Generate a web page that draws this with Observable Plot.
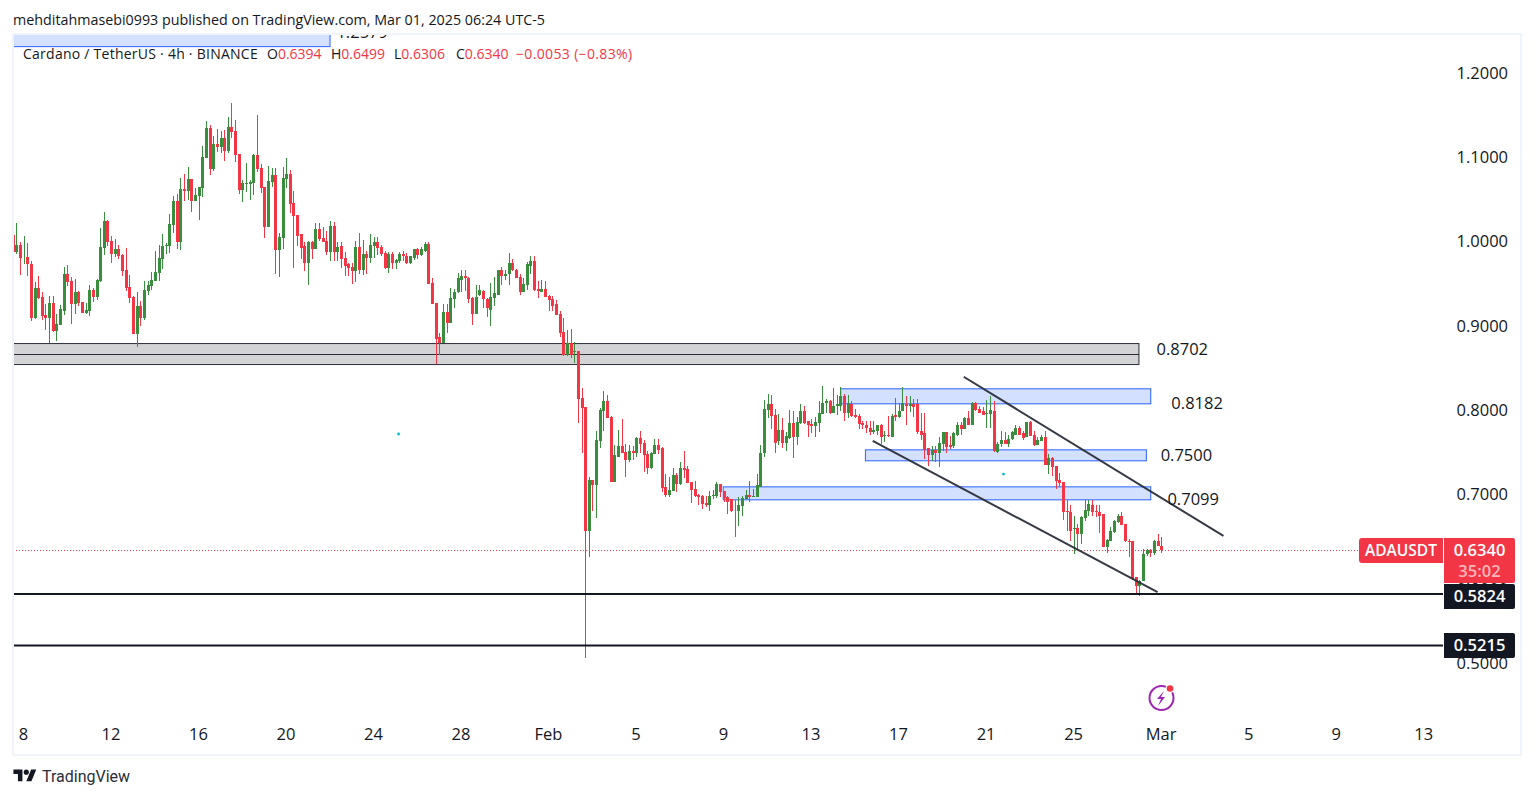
<!DOCTYPE html>
<html><head><meta charset="utf-8">
<script src="https://cdn.jsdelivr.net/npm/d3@7"></script>
<script src="https://cdn.jsdelivr.net/npm/@observablehq/plot@0.6"></script>
<style>
html,body{margin:0;padding:0;background:#fff;overflow:hidden}
#wrap{position:relative;width:1533px;height:798px;font-family:"Open Sans",sans-serif;color:#131722}
#frame{position:absolute;left:12px;top:33px;width:1506px;height:719px;border:2px solid #f0f3fa}
#wrap svg.plot{position:absolute;left:0;top:0}
.t{position:absolute;white-space:pre;line-height:1}
.tag{position:absolute;left:1444px;width:71px;text-align:center;border-radius:0 2px 2px 0;font-size:16.5px;font-weight:600}
</style></head><body><div id="wrap"><div id="frame"></div></div>
<script>
// [open, high, low, close] of each 4h bar, oldest first
const barsJanA = [
[1.0083,1.0178,.9873,.9873],[.9873,1.0225,.9850,.9964],[.9964,1.0000,.9608,.9802],[.9814,1.0071,.9731,.9822],[.9822,.9988,.9597,.9731],[.9739,.9774,.9063,.9098],[.9098,.9525,.9079,.9454],[.9454,.9597,.9324,.9335],[.9347,.9407,.9075,.9122],[.9134,.9264,.8956,.9098],
[.9098,.9359,.8798,.9276],[.9276,.9359,.8932,.8944],[.8944,.9146,.8825,.9027],[.9015,.9253,.9015,.9205],[.9181,.9703,.9134,.9620],[.9620,.9727,.9478,.9525],[.9537,.9585,.9027,.9264],[.9264,.9561,.9146,.9407],[.9407,.9419,.9241,.9276],[.9288,.9288,.9158,.9158],
[.9158,.9276,.9146,.9193],[.9181,.9490,.9122,.9430],[.9430,.9454,.9288,.9347],[.9347,.9561,.9312,.9549],[.9537,1.0166,.9525,.9940],[.9929,1.0356,.9846,1.0249],[1.0249,1.0261,.9952,1.0000],[1.0012,1.0071,.9751,.9858],[.9858,1.0035,.9822,.9917],[.9917,.9964,.9798,.9834],
[.9846,.9858,.9597,.9656],[.9668,.9929,.9419,.9454],[.9466,.9608,.9276,.9335],[.9347,.9359,.8909,.8909],[.8909,.9407,.8746,.9241],[.9241,.9300,.9003,.9098],[.9098,.9537,.9075,.9430],[.9419,.9537,.9371,.9490],[.9478,.9644,.9430,.9549],[.9537,.9893,.9537,.9644],
[.9632,.9964,.9537,.9810],[.9798,1.0095,.9680,.9952],[.9952,.9988,.9858,.9964],[.9952,1.0332,.9869,1.0213],[1.0201,1.0545,1.0107,1.0486],[1.0486,1.0569,.9917,1.0000],[1.0000,1.0759,.9905,1.0628],[1.0628,1.0806,1.0486,1.0605],[1.0605,1.0889,1.0498,1.0747],[1.0747,1.0747,1.0356,1.0486],
[1.0486,1.0640,1.0486,1.0557],[1.0545,1.0652,1.0261,1.0652],[1.0640,1.1139,1.0534,1.1008],[1.0996,1.1435,1.0996,1.1352],[1.1352,1.1388,1.0795,1.0866],[1.0866,1.1257,1.0842,1.1162],[1.1162,1.1340,1.1067,1.1127],[1.1127,1.1316,1.1055,1.1233],[1.1233,1.1328,1.0961,1.1079],[1.1079,1.1483,1.1055,1.1364],
[1.1364,1.1649,1.1233,1.1305],[1.1316,1.1447,1.0949,1.1032],[1.1044,1.1044,1.0569,1.0617],[1.0617,1.0735,1.0474,1.0700],[1.0688,1.0937,1.0593,1.0700],[1.0688,1.0735,1.0498,1.0712],[1.0700,1.1044,1.0557,1.1032],[1.1032,1.1506,1.0830,1.0866],[1.0878,1.0925,1.0581,1.0640],[1.0652,1.0652,1.0047,1.0178],
[1.0178,1.0901,1.0178,1.0723],[1.0712,1.0878,1.0652,1.0795],[1.0795,1.0878,.9620,.9905],[.9905,1.0107,.9585,1.0059],[1.0047,1.0889,.9917,1.0759],[1.0747,1.0996,1.0640,1.0806],[1.0806,1.0854,1.0344,1.0451],[1.0462,1.0605,.9691,1.0308],[1.0320,1.0320,.9952,1.0071]
];
const barsJanB = [
[1.0084,1.0084,.9799,.9929],[.9953,.9989,.9645,.9740],[.9740,1.0012,.9490,.9989],[.9989,1.0012,.9799,.9917],[.9917,1.0225,.9917,1.0150],[1.0150,1.0225,1.0012,1.0036],[1.0048,1.0170,.9989,1.0000],[1.0012,1.0131,.9846,.9882],[.9882,1.0250,.9775,1.0180],[1.0180,1.0230,.9775,.9882],
[.9882,1.0000,.9775,.9941],[.9953,1.0000,.9692,.9799],[.9811,.9882,.9597,.9716],[.9728,.9740,.9597,.9692],[.9704,.9740,.9502,.9645],[.9645,1.0012,.9526,.9941],[.9941,1.0107,.9621,.9668],[.9668,1.0024,.9609,.9858],[.9858,.9894,.9621,.9811],[.9811,1.0084,.9751,.9965],
[.9953,1.0060,.9811,.9989],[.9989,1.0060,.9846,.9929],[.9941,.9965,.9823,.9858],[.9870,.9894,.9680,.9692],[.9692,.9882,.9633,.9858],[.9858,.9882,.9680,.9740],[.9740,.9799,.9680,.9787],[.9775,.9882,.9751,.9858],[.9858,.9894,.9775,.9823],[.9834,.9870,.9728,.9740],
[.9740,.9823,.9728,.9823],[.9811,.9917,.9787,.9917],[.9917,.9929,.9799,.9846],[.9846,.9941,.9834,.9917],[.9894,.9989,.9882,.9977],[.9977,.9989,.9502,.9502],[.9514,.9573,.9265,.9265],[.9277,.9277,.8553,.8850],[.8862,.8921,.8660,.8791],[.8791,.9265,.8791,.9170],
[.9170,.9265,.8921,.9028],[.9028,.9455,.9028,.9336],[.9324,.9443,.9206,.9407],[.9396,.9633,.9384,.9562],[.9550,.9668,.9396,.9597],[.9597,.9668,.9419,.9562],[.9573,.9585,.9277,.9324],[.9336,.9348,.9016,.9146],[.9146,.9490,.9146,.9348],[.9372,.9490,.9360,.9431],
[.9419,.9431,.9206,.9313],[.9324,.9336,.9111,.9206],[.9194,.9514,.9004,.9348],[.9336,.9585,.9241,.9384],[.9372,.9668,.9372,.9668],[.9657,.9704,.9479,.9597],[.9597,.9657,.9550,.9621],[.9621,.9870,.9490,.9751],[.9751,.9799,.9645,.9668],[.9668,.9680,.9573,.9573],
[.9585,.9621,.9372,.9407],[.9407,.9573,.9407,.9502],[.9490,.9763,.9431,.9728],[.9716,.9823,.9621,.9775],[.9775,.9823,.9419,.9431],[.9443,.9538,.9336,.9419],[.9407,.9550,.9407,.9443],[.9443,.9538,.9348,.9348],[.9360,.9372,.9182,.9301],[.9313,.9360,.9182,.9241],
[.9265,.9301,.9123,.9123],[.9135,.9182,.8862,.8921],[.8933,.9099,.8648,.8660],[.8660,.8945,.8648,.8791],[.8802,.8968,.8624,.8660],[.8684,.8814,.8565,.8696]
];
const barsFebA = [
[.8696,.8696,.7853,.8138],[.8150,.8257,.7497,.8031],[.8043,.8043,.5054,.6572],[.6572,.7201,.6252,.7177],[.7177,.7177,.6809,.7106],[.7106,.7747,.6715,.7640],[.7628,.8031,.7545,.7996],[.7984,.8233,.7747,.8114],[.8114,.8185,.7901,.7901],[.7913,.7936,.7142,.7142],
[.7142,.7581,.7142,.7462],[.7450,.7770,.7450,.7569],[.7569,.7889,.7486,.7497],[.7509,.7604,.7201,.7414],[.7414,.7592,.7379,.7521],[.7521,.7569,.7403,.7486],[.7486,.7687,.7450,.7675],[.7675,.7758,.7486,.7604],[.7616,.7640,.7272,.7462],[.7474,.7521,.7237,.7308],
[.7308,.7509,.7296,.7486],[.7474,.7652,.7474,.7592],[.7592,.7652,.7474,.7533],[.7545,.7557,.7023,.7082],[.7094,.7237,.6964,.6999],[.6999,.7201,.6975,.7047],[.7035,.7319,.7035,.7225],[.7225,.7260,.7023,.7118],[.7118,.7379,.7106,.7319],[.7319,.7521,.7189,.7284],
[.7296,.7343,.7130,.7130],[.7142,.7142,.6893,.7047],[.7059,.7165,.6975,.6987],[.6999,.7011,.6869,.6975],[.6987,.6999,.6833,.6881],[.6893,.6987,.6845,.6869],[.6869,.7035,.6809,.6987],[.6987,.7047,.6940,.6999],[.6987,.7153,.6952,.7118],[.7118,.7118,.6975,.7023],
[.7035,.7035,.6916,.6952],[.6964,.6987,.6762,.6916],[.6940,.6940,.6786,.6798],[.6809,.6928,.6489,.6798],[.6798,.6964,.6620,.6869],[.6857,.6987,.6750,.6952],[.6940,.7047,.6940,.6999],[.6999,.7165,.6916,.6964],[.6975,.7059,.6964,.6987],[.6975,.7237,.6975,.7106],
[.7094,.7581,.7094,.7497],[.7486,.8126,.7450,.8008],[.7996,.8197,.7901,.8067],[.8067,.8174,.7782,.7936],[.7948,.8019,.7497,.7616],[.7628,.7960,.7592,.7770],[.7770,.7901,.7545,.7616],[.7616,.7735,.7521,.7699],[.7675,.7996,.7652,.7853],[.7853,.7984,.7438,.7687],
[.7687,.7913,.7581,.7865],[.7853,.8067,.7841,.7984],[.7984,.8055,.7841,.7853],[.7877,.7877,.7687,.7818],[.7830,.7889,.7723,.7806],[.7806,.7913,.7687,.7865],[.7853,.8114,.7735,.7972],[.7960,.8292,.7960,.8090],[.8079,.8138,.7972,.8114],[.8114,.8126,.7960,.7972],
[.7972,.8268,.7972,.8055],[.8055,.8174,.7948,.8067],[.8055,.8280,.7984,.8162],[.8162,.8197,.7877,.7972],[.7972,.8174,.7901,.8079],[.8067,.8114,.7913,.7936],[.7948,.8019,.7901,.7913],[.7925,.7960,.7782,.7841]
];
const barsFebB = [
[.7849,.7877,.7782,.7818],[.7825,.7877,.7723,.7790],[.7790,.7877,.7711,.7746],[.7746,.7877,.7719,.7766],[.7754,.7829,.7711,.7818],[.7818,.7837,.7600,.7687],[.7695,.7758,.7620,.7711],[.7711,.7936,.7679,.7699],[.7687,.7956,.7687,.7936],[.7948,.8146,.7869,.7924],
[.7924,.8090,.7909,.7992],[.7984,.8280,.7984,.8086],[.8075,.8173,.7818,.8051],[.8051,.8173,.7976,.8075],[.8075,.8134,.7916,.8043],[.8075,.8134,.7719,.7746],[.7758,.7972,.7640,.7711],[.7723,.7972,.7422,.7533],[.7545,.7545,.7343,.7462],[.7462,.7580,.7395,.7533],
[.7533,.7580,.7383,.7497],[.7497,.7687,.7323,.7616],[.7604,.7746,.7521,.7735],[.7735,.7735,.7497,.7568],[.7592,.7699,.7541,.7568],[.7580,.7746,.7553,.7723],[.7711,.7865,.7699,.7818],[.7818,.7865,.7711,.7782],[.7782,.7924,.7782,.7901],[.7901,.7984,.7818,.7818],
[.7818,.8098,.7818,.8090],[.8090,.8102,.7984,.8007],[.8019,.8055,.7964,.7972],[.7984,.8035,.7948,.7948],[.7960,.8126,.7790,.7972],[.7960,.8169,.7790,.7996],[.7984,.8114,.7509,.7521],[.7509,.7620,.7489,.7604],[.7604,.7758,.7568,.7640],[.7640,.7738,.7604,.7604],
[.7604,.7711,.7568,.7663],[.7663,.7750,.7640,.7735],[.7711,.7829,.7711,.7794],[.7794,.7806,.7711,.7711],[.7723,.7758,.7640,.7675],[.7687,.7865,.7687,.7865],[.7865,.7877,.7699,.7699],[.7711,.7758,.7580,.7592],[.7592,.7687,.7592,.7640],[.7628,.7711,.7628,.7687],
[.7687,.7758,.7355,.7355],[.7355,.7474,.7248,.7438],[.7438,.7450,.7224,.7331],[.7343,.7343,.7070,.7165],[.7177,.7260,.7094,.7141],[.7153,.7153,.6691,.6797],[.6809,.6928,.6572,.6797],[.6797,.6880,.6453,.6572],[.6584,.6750,.6295,.6596],[.6596,.6651,.6335,.6525],
[.6525,.6750,.6414,.6738],[.6726,.6928,.6679,.6821],[.6809,.6928,.6750,.6892],[.6880,.6928,.6750,.6797],[.6809,.6880,.6730,.6786],[.6797,.6880,.6544,.6750],[.6762,.6762,.6382,.6382],[.6382,.6473,.6303,.6465],[.6453,.6612,.6446,.6572],[.6560,.6691,.6548,.6679],
[.6667,.6770,.6659,.6750],[.6750,.6786,.6635,.6643],[.6655,.6655,.6430,.6442],[.6453,.6477,.6256,.6430],[.6442,.6442,.5979,.5991],[.6015,.6015,.5801,.5908],[.5908,.5979,.5789,.5967],[.5967,.6355,.5967,.6299],[.6288,.6355,.6264,.6335],[.6335,.6355,.6256,.6311],
[.6311,.6461,.6276,.6442],[.6442,.6533,.6394,.6394],[.6394,.6499,.6306,.6340]
];
const dayTicks = [0,4,8,12,16,20,24,28,32,36,40,44,48,52,56,60,64];
const dayLabels = ["8","12","16","20","24","28","Feb","5","9","13","17","21","25","Mar","5","9","13"];
const priceTicks = [0.5,0.6,0.7,0.8,0.9,1.0,1.1,1.2];
const lastPrice = 0.6340;
const levelLines = [0.5824,0.5215];
// zones: day from, day to, price low, price high
const greyZone = [[-0.5,51.10,0.8541,0.8790]];
const greyMid = [0.8666];
const blueZones = [[-0.5,14.13,1.2313,1.2600],[37.47,51.64,0.8075,0.8253],[38.60,51.44,0.7399,0.7529],[32.10,51.64,0.6936,0.7090]];
// trend lines: day, price, day, price
const channel = [[43.07,0.8402,54.94,0.6513],[38.91,0.7640,51.93,0.5848]];
const dots = [[17.24,0.7723],[44.89,0.7248]];
const levelLabels = [[51.88,0.8719,"0.8702"],[52.56,0.8078,"0.8182"],[52.07,0.7462,"0.7500"],[52.38,0.6940,"0.7099"],[14.40,1.2480,"1.2579"]];

const GREEN="#388e3c", RED="#f23645", INK="#131722", FONT="'Open Sans', sans-serif";
const bars=[...barsJanA,...barsJanB,...barsFebA,...barsFebB].map((b,i,a)=>({day:52.125-(a.length-1-i)/6,o:b[0],h:b[1],l:b[2],c:b[3]}));
const ups=bars.filter(d=>d.c>=d.o), downs=bars.filter(d=>d.c<d.o);
const candle=(rows,col)=>[
  Plot.ruleX(rows,{x:"day",y1:"l",y2:"h",stroke:col,strokeWidth:1,shapeRendering:"crispEdges",clip:true}),
  Plot.ruleX(rows,{x:"day",y1:"o",y2:"c",stroke:col,strokeWidth:3,shapeRendering:"crispEdges",clip:true})
];
const chart=Plot.plot({
  width:1533,height:798,marginLeft:13,marginRight:90,marginTop:34,marginBottom:76,
  style:{fontFamily:FONT,fontSize:"16px",color:INK,background:"transparent",overflow:"visible"},
  x:{type:"linear",domain:[0,64],range:[20.86,1421.18]},
  y:{type:"linear",domain:[0.5,1.2],range:[663,73]},
  marks:[
    Plot.rect(greyZone,{x1:d=>d[0],x2:d=>d[1],y1:d=>d[2],y2:d=>d[3],fill:"#d3d3d6",stroke:"#2a2e39",strokeWidth:1,clip:true}),
    Plot.ruleY(greyMid,{x1:-0.5,x2:51.10,stroke:"#2a2e39",strokeWidth:1,clip:true}),
    Plot.rect(blueZones,{x1:d=>d[0],x2:d=>d[1],y1:d=>d[2],y2:d=>d[3],fill:"#d4e0ff",stroke:"#2962ff",strokeWidth:1,clip:true}),
    ...candle(ups,GREEN),...candle(downs,RED),
    Plot.ruleY([lastPrice],{stroke:RED,strokeWidth:1,strokeDasharray:"1 2"}),
    Plot.ruleY(levelLines,{stroke:INK,strokeWidth:2}),
    Plot.link(channel,{x1:d=>d[0],y1:d=>d[1],x2:d=>d[2],y2:d=>d[3],stroke:"#2a2e39",strokeWidth:2,strokeOpacity:0.95}),
    Plot.dot(dots,{x:d=>d[0],y:d=>d[1],r:1.4,fill:"#00bcd4"}),
    Plot.text(levelLabels,{x:d=>d[0],y:d=>d[1],text:d=>d[2],textAnchor:"start",lineAnchor:"middle",fontSize:16.5,fontWeight:500,fill:INK,clip:true}),
    Plot.axisX(dayTicks,{anchor:"bottom",tickSize:0,tickPadding:6,label:null,tickFormat:d=>dayLabels[dayTicks.indexOf(d)],dx:2,fontSize:16.5,fontWeight:500,fill:INK}),
    Plot.axisY(priceTicks,{anchor:"right",tickSize:0,tickPadding:13,label:null,tickFormat:d=>d.toFixed(4),textAnchor:"start",fontSize:16.5,fontWeight:500,fill:INK})
  ]
});
const wrap=document.getElementById("wrap");
wrap.appendChild(chart);
function add(html){const h=document.createElement("div");h.innerHTML=html;while(h.firstChild)wrap.appendChild(h.firstChild);}
add(`<div class="t" style="left:13px;top:13px;font-size:14.3px">mehditahmasebi0993 published on TradingView.com, Mar 01, 2025 06:24 UTC-5</div>
<div class="t" style="left:23px;top:47px;font-size:14px;letter-spacing:.25px">Cardano / TetherUS · 4h · BINANCE</div>
<div class="t" style="left:267px;top:47px;font-size:14px">O<span style="color:#f23645">0.6394</span></div>
<div class="t" style="left:331px;top:47px;font-size:14px">H<span style="color:#f23645">0.6499</span></div>
<div class="t" style="left:394px;top:47px;font-size:14px">L<span style="color:#f23645">0.6306</span></div>
<div class="t" style="left:456px;top:47px;font-size:14px">C<span style="color:#f23645">0.6340</span></div>
<div class="t" style="left:516px;top:47px;font-size:14px;letter-spacing:.35px;color:#f23645">−0.0053 (−0.83%)</div>
<div style="position:absolute;left:1359px;top:538px;width:84px;height:25px;background:#f23645;border-radius:3px 0 0 3px;color:#fff;font-size:15.5px;font-weight:600;text-align:center;line-height:24px">ADAUSDT</div>
<div class="tag" style="top:538px;height:45px;background:#f23645;color:#fff;line-height:23px">0.6340<div style="font-size:16.5px;line-height:15px;color:#fbb6bc;margin-top:2px">35:02</div></div>
<div class="tag" style="top:584px;height:25px;background:#131722;color:#fff;line-height:24px">0.5824</div>
<div class="tag" style="top:633px;height:25px;background:#131722;color:#fff;line-height:24px">0.5215</div>
<svg style="position:absolute;left:13px;top:767px" width="24" height="18" viewBox="0 0 36 28"><path fill="#131722" d="M14 22H7V11H0V4h14v18zM28 22h-8l7.5-18h8L28 22z"/><circle fill="#131722" cx="20" cy="8" r="4"/></svg>
<div class="t" style="left:42px;top:769px;font-size:16px;font-family:Roboto,sans-serif;color:#2a2e39">TradingView</div>
<svg style="position:absolute;left:1145px;top:682px" width="32" height="32" viewBox="0 0 32 32"><circle cx="16.5" cy="16" r="12" fill="none" stroke="#9c27b0" stroke-width="2"/><path d="M19 9l-7 8h4l-3 7 7-9h-4z" fill="#9c27b0"/><circle cx="25" cy="6.5" r="4.5" fill="#fff"/><circle cx="25" cy="6.5" r="3.3" fill="#f23645"/></svg>`);
</script></body></html>
